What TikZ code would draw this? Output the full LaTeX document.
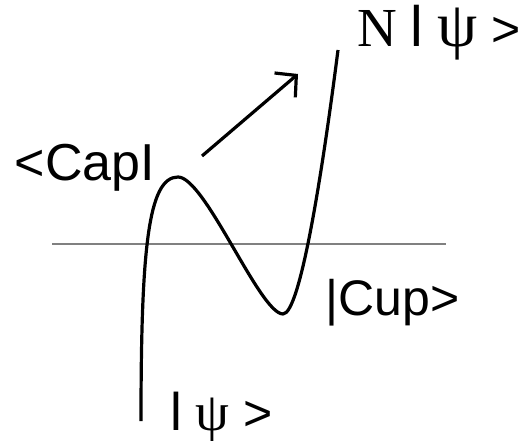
\documentclass[tikz,border=0pt]{standalone}
\usepackage{fontspec}
\setmainfont{Liberation Sans}
\newfontfamily\seriffont{Liberation Serif}
\usetikzlibrary{arrows.meta}
\definecolor{axisgray}{RGB}{128,128,128}
\begin{document}
\begin{tikzpicture}[x=1pt,y=-1pt,
  curve/.style={line width=3.2pt, line join=round},
  axis/.style={line width=2pt, draw=axisgray},
  lbl/.style={inner sep=0pt, anchor=base west},
  ]
\useasboundingbox (0,0) rectangle (525,441);
% axis
\coordinate (axl) at (52,244);
\coordinate (axr) at (446,244);
\draw[axis] (axl) -- (axr);
% curve
\coordinate (start) at (141,421);
\coordinate (peak) at (178,177);
\coordinate (mini) at (283,314);
\coordinate (top) at (338,50);
\draw[curve] (start) .. controls (141,250) and (148,177) .. (peak)
  .. controls (205,177) and (260,314) .. (mini)
  .. controls (300,314) and (322,175) .. (top);
% arrow
\coordinate (a1) at (202,156);
\coordinate (a2) at (298,74);
\draw[curve, -{Straight Barb[length=15pt,width=32pt]}] (a1) -- (a2);
% labels
\node[lbl, font=\fontsize{52}{60}\selectfont] (cap) at (14.5,180) {<CapI};
\node[lbl, font=\fontsize{50}{60}\selectfont] (cup) at (325.5,315) {|Cup>};
\node[lbl, font=\fontsize{50}{60}\selectfont] (nps) at (357,47)
  {{\seriffont\fontsize{55}{60}\selectfont N} {\fontsize{57}{60}\selectfont l} {\seriffont\fontsize{64}{60}\selectfont ψ} >};
\node[lbl, font=\fontsize{50}{60}\selectfont] (ps) at (170,430)
  {{\fontsize{53}{60}\selectfont l} {\seriffont\fontsize{54}{60}\selectfont ψ} >};
\end{tikzpicture}
\end{document}
